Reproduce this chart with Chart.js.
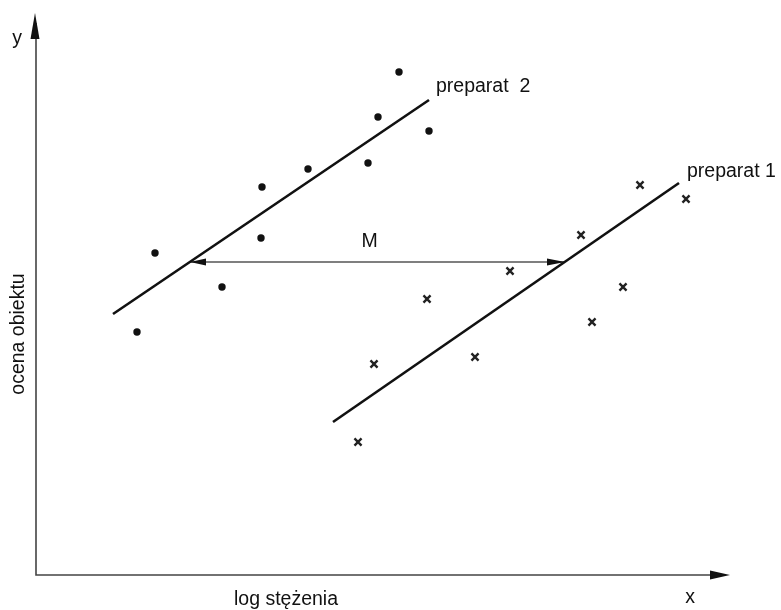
<!DOCTYPE html>
<html>
<head>
<meta charset="utf-8">
<script src="https://cdn.jsdelivr.net/npm/chart.js@4"></script>
<style>
  html, body { margin: 0; padding: 0; background: #fff; }
  #wrap { width: 781px; height: 610px; }
</style>
</head>
<body>
<div id="wrap"><canvas id="c" width="781" height="610"></canvas></div>
<script>
// Observations: log concentration (x) vs. object score (y)
const prep2X = [36.3, 34.2, 39.3, 33.2, 27.2, 22.6, 22.5, 11.9, 18.6, 10.1];
const prep2Y = [50.3, 45.8, 44.4, 41.2, 40.6, 38.8, 33.7, 32.2, 28.8, 24.3];
const prep1X = [60.4, 65.0, 54.5, 47.4, 58.7, 39.1, 55.6, 43.9, 33.8, 32.2];
const prep1Y = [39.0, 37.6, 34.0, 30.4, 28.8, 27.6, 25.3, 21.8, 21.1, 13.3];

// Fitted regression lines (start / end)
const line2X = [7.7, 39.3];
const line2Y = [26.1, 47.5];
const line1X = [29.7, 64.3];
const line1Y = [15.3, 39.2];

// Horizontal distance M between the two lines
const mX = [15.4, 52.9];
const mY = [31.3, 31.3];

const seriesLabels = ['preparat  2', 'preparat 1'];
const axisTitles = { x: 'log stężenia', y: 'ocena obiektu' };

const toPts = (xs, ys) => xs.map((x, i) => ({ x, y: ys[i] }));

const FONT = '"Liberation Sans", Arial, sans-serif';

function arrowHead(ctx, tipX, tipY, dirX, dirY, len, half) {
  const nx = -dirY, ny = dirX;
  const bx = tipX - dirX * len, by = tipY - dirY * len;
  ctx.beginPath();
  ctx.moveTo(tipX, tipY);
  ctx.lineTo(bx + nx * half, by + ny * half);
  ctx.lineTo(bx - nx * half, by - ny * half);
  ctx.closePath();
  ctx.fill();
}

const decorations = {
  id: 'decorations',
  beforeDatasetsDraw(chart) {
    const { ctx, chartArea: a } = chart;
    ctx.save();
    // axes
    ctx.strokeStyle = '#444';
    ctx.lineWidth = 1.6;
    ctx.beginPath();
    ctx.moveTo(a.left, a.top + 10);
    ctx.lineTo(a.left, a.bottom);
    ctx.lineTo(a.right - 10, a.bottom);
    ctx.stroke();
    ctx.fillStyle = '#111';
    arrowHead(ctx, a.left - 1, a.top, 0, -1, 26, 4.5);
    arrowHead(ctx, a.right, a.bottom, 1, 0, 20, 4.5);
    ctx.restore();
  },
  afterDatasetsDraw(chart) {
    const { ctx, chartArea: a, scales: { x, y } } = chart;
    ctx.save();
    // arrowheads of M
    ctx.fillStyle = '#111';
    const mL = x.getPixelForValue(mX[0]), mR = x.getPixelForValue(mX[1]);
    const mYp = y.getPixelForValue(mY[0]);
    arrowHead(ctx, mL, mYp, -1, 0, 16, 3.5);
    arrowHead(ctx, mR, mYp, 1, 0, 18, 3.5);

    ctx.fillStyle = '#111';
    ctx.font = '19.5px ' + FONT;
    ctx.textBaseline = 'middle';
    ctx.textAlign = 'center';
    ctx.fillText('M', x.getPixelForValue((mX[0] + mX[1]) / 2 - 0.8), mYp - 20);

    ctx.textAlign = 'left';
    ctx.fillText(seriesLabels[0], x.getPixelForValue(line2X[1]) + 7, y.getPixelForValue(line2Y[1]) - 13);
    ctx.fillText(seriesLabels[1], x.getPixelForValue(line1X[1]) + 8, y.getPixelForValue(line1Y[1]) - 11);

    // axis names
    ctx.textAlign = 'center';
    ctx.fillText(axisTitles.x, 286, a.bottom + 25);
    ctx.fillText('x', a.right - 40, a.bottom + 23);
    ctx.fillText('y', 17, a.top + 26);
    ctx.save();
    ctx.translate(19, 334);
    ctx.rotate(-Math.PI / 2);
    ctx.fillText(axisTitles.y, 0, 0);
    ctx.restore();
    ctx.restore();
  }
};

new Chart(document.getElementById('c'), {
  type: 'scatter',
  data: {
    datasets: [
      { label: seriesLabels[0], data: toPts(prep2X, prep2Y), pointStyle: 'circle',
        pointRadius: 3.7, backgroundColor: '#111', borderColor: '#111', borderWidth: 0 },
      { label: seriesLabels[1], data: toPts(prep1X, prep1Y), pointStyle: 'crossRot',
        pointRadius: 5, borderColor: '#222', borderWidth: 2.4 },
      { type: 'line', label: 'fit 2', data: toPts(line2X, line2Y), borderColor: '#111',
        borderWidth: 2.6, pointRadius: 0, fill: false },
      { type: 'line', label: 'fit 1', data: toPts(line1X, line1Y), borderColor: '#111',
        borderWidth: 2.6, pointRadius: 0, fill: false },
      { type: 'line', label: 'M', data: toPts(mX, mY), borderColor: '#555',
        borderWidth: 1.6, pointRadius: 0, fill: false }
    ]
  },
  options: {
    responsive: false,
    animation: false,
    layout: { padding: { left: 36, right: 51, top: 13, bottom: 35 } },
    plugins: { legend: { display: false }, tooltip: { enabled: false } },
    scales: {
      x: { type: 'linear', min: 0, max: 69.4, display: false },
      y: { type: 'linear', min: 0, max: 56.2, display: false }
    }
  },
  plugins: [decorations]
});
</script>
</body>
</html>
